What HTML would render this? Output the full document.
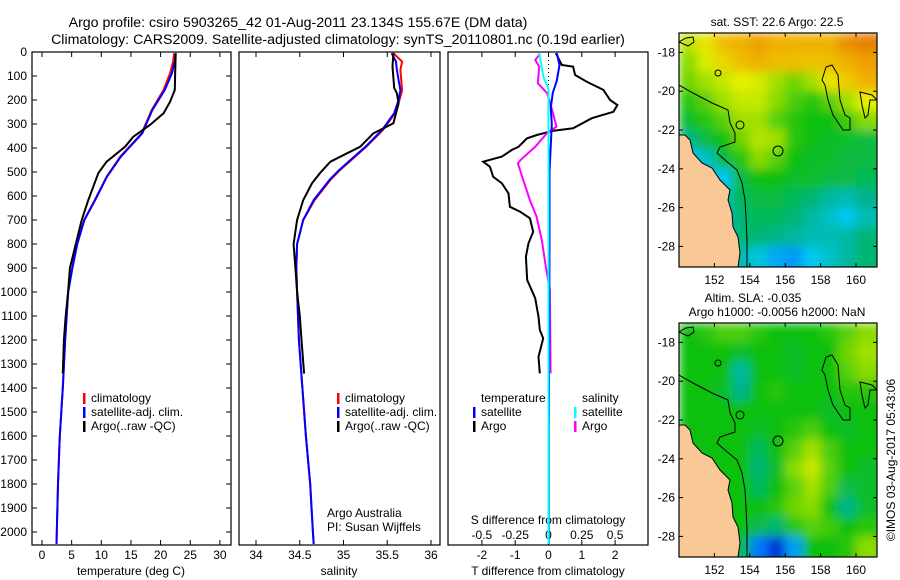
<!DOCTYPE html>
<html><head><meta charset="utf-8"><style>
html,body{margin:0;padding:0;background:#fff;}
svg{display:block;font-family:"Liberation Sans",sans-serif;}
text{fill:#000;}
</style></head><body>
<svg id="c" width="900" height="580" viewBox="0 0 900 580">
<defs>
<clipPath id="cp1"><rect x="32" y="52" width="199" height="493"/></clipPath>
<clipPath id="cp2"><rect x="239" y="52" width="201" height="493"/></clipPath>
<clipPath id="cp3"><rect x="448" y="52" width="200" height="493"/></clipPath>
<clipPath id="cpm1"><rect x="679" y="33" width="198" height="234"/></clipPath>
<clipPath id="cpm2"><rect x="679" y="323" width="198" height="234"/></clipPath>
<filter id="bl" x="0" y="0" width="1" height="1"><feGaussianBlur stdDeviation="5" edgeMode="duplicate"/></filter>
</defs>
<text x="298" y="27" font-size="14.2" text-anchor="middle">Argo profile: csiro 5903265_42 01-Aug-2011 23.134S 155.67E (DM data)</text>
<text x="338" y="44" font-size="14.2" text-anchor="middle">Climatology: CARS2009. Satellite-adjusted climatology: synTS_20110801.nc (0.19d earlier)</text>
<g id="g"></g>
</svg>
<script>
// ---- data ----
const tArgoPres=[5,54,100,158,207,255,304,353,395,457,505,617,700,800,900,1000,1100,1200,1340];
const tArgo=[22.54,22.5,22.45,22.4,21.6,20.5,18.2,15.4,14,10.9,9.5,7.8,6.7,5.7,4.7,4.4,4.0,3.7,3.5];
const climPres=[5,40,89,158,242,339,436,520,617,700,800,900,1000,1200,1400,1600,1800,2000,2050];
const tClim=[22.3,22.1,21.6,20.5,18.5,16.8,13.2,10.9,8.9,7.1,5.9,5.1,4.4,3.9,3.5,3.0,2.7,2.5,2.45];
const tSat=[22.55,22.4,21.9,20.7,18.6,16.9,13.3,10.95,8.95,7.15,5.95,5.13,4.42,3.92,3.5,3.0,2.7,2.5,2.45];
const sArgoPres=[5,61,150,172,214,297,339,395,422,457,505,547,617,700,800,900,1000,1100,1200,1340];
const sArgo=[35.57,35.56,35.58,35.61,35.63,35.57,35.34,35.19,35.04,34.85,34.73,34.64,34.54,34.47,34.43,34.45,34.47,34.5,34.52,34.55];
const sClimPres=[5,40,75,160,200,255,325,395,492,533,617,700,800,900,1000,1200,1400,1600,1800,2000,2050];
const sClim=[35.57,35.67,35.65,35.67,35.64,35.59,35.45,35.26,34.96,34.85,34.67,34.54,34.47,34.46,34.47,34.49,34.53,34.57,34.62,34.65,34.66];
const sSat=[35.55,35.6,35.61,35.65,35.63,35.58,35.44,35.25,34.95,34.84,34.66,34.54,34.47,34.46,34.47,34.49,34.53,34.57,34.62,34.65,34.66];
const dtArgoPres=[5,54,61,96,124,158,200,221,249,276,318,328,346,360,395,408,436,457,478,520,547,589,645,665,693,749,797,853,950,1026,1103,1158,1193,1270,1339];
const dtArgo=[0.22,0.4,0.74,0.8,1.15,1.65,1.85,2.07,1.95,1.3,0.74,0.15,-0.35,-0.65,-0.9,-1.1,-1.4,-1.96,-1.76,-1.66,-1.4,-1.2,-1.16,-0.86,-0.56,-0.46,-0.6,-0.68,-0.64,-0.4,-0.3,-0.26,-0.16,-0.3,-0.26];
const dsArgoPres=[8,33,61,130,172,235,311,339,395,450,464,533,617,686,783,894,992,1339];
const dsArgo=[-0.064,-0.1,-0.07,-0.08,-0.01,0.024,0.06,-0.013,-0.1,-0.21,-0.23,-0.19,-0.14,-0.09,-0.05,-0.02,0.01,0.016];
const dtSatPres=[5,54,120,170,230,300,500,800,1200,1600,2050];
const dtSat=[0.25,0.33,0.25,0.13,0.07,0.1,0.03,0.03,0.02,0.01,0.01];
const dsSatPres=[5,100,155,300,800,2050];
const dsSat=[-0.07,-0.04,0,0,0,0];
const presTicks=[0,100,200,300,400,500,600,700,800,900,1000,1100,1200,1300,1400,1500,1600,1700,1800,1900,2000];
const tTicks=[0,5,10,15,20,25,30];
const sTicks=[34,34.5,35,35.5,36];
const dtTicks=[-2,-1,0,1,2];
const dsTickLabels=["-0.5","-0.25","0","0.25","0.5"];
const mapLats=[-18,-20,-22,-24,-26,-28];
const mapLons=[152,154,156,158,160];
const sstGrid=[
[0.65,0.72,0.78,0.8,0.82,0.8,0.8,0.8,0.8,0.84,0.86],
[0.6,0.68,0.74,0.78,0.8,0.78,0.78,0.77,0.78,0.8,0.82],
[0.58,0.62,0.66,0.7,0.68,0.62,0.58,0.62,0.72,0.76,0.8],
[0.52,0.56,0.62,0.66,0.66,0.6,0.55,0.52,0.56,0.62,0.7],
[0.48,0.52,0.56,0.62,0.62,0.56,0.52,0.5,0.5,0.54,0.6],
[0.4,0.46,0.5,0.58,0.64,0.62,0.52,0.5,0.48,0.48,0.46],
[0.3,0.34,0.46,0.52,0.6,0.56,0.5,0.48,0.48,0.46,0.46],
[0.3,0.3,0.3,0.46,0.5,0.5,0.48,0.48,0.46,0.46,0.44],
[0.3,0.3,0.36,0.44,0.46,0.46,0.44,0.42,0.38,0.36,0.4],
[0.3,0.3,0.36,0.42,0.44,0.44,0.42,0.38,0.34,0.3,0.36],
[0.3,0.3,0.3,0.42,0.42,0.4,0.38,0.36,0.36,0.38,0.42],
[0.3,0.3,0.3,0.36,0.32,0.26,0.24,0.3,0.34,0.38,0.42]];
const slaGrid=[
[0.5,0.52,0.55,0.55,0.52,0.5,0.5,0.5,0.52,0.56,0.6],
[0.5,0.5,0.5,0.48,0.5,0.5,0.48,0.5,0.5,0.58,0.62],
[0.5,0.5,0.5,0.38,0.5,0.5,0.48,0.5,0.5,0.56,0.6],
[0.5,0.5,0.48,0.4,0.5,0.52,0.5,0.5,0.5,0.52,0.52],
[0.5,0.5,0.5,0.5,0.5,0.5,0.5,0.5,0.48,0.5,0.5],
[0.5,0.5,0.5,0.5,0.48,0.5,0.52,0.55,0.5,0.48,0.5],
[0.5,0.5,0.5,0.5,0.44,0.5,0.56,0.62,0.55,0.5,0.5],
[0.5,0.5,0.5,0.5,0.42,0.48,0.6,0.66,0.56,0.5,0.48],
[0.5,0.5,0.5,0.5,0.44,0.5,0.56,0.62,0.55,0.45,0.48],
[0.5,0.5,0.5,0.5,0.5,0.52,0.58,0.6,0.5,0.4,0.48],
[0.5,0.5,0.5,0.5,0.45,0.42,0.52,0.56,0.54,0.5,0.52],
[0.5,0.5,0.5,0.45,0.2,0.1,0.25,0.5,0.5,0.52,0.6]];

// ---- helpers ----
const NS="http://www.w3.org/2000/svg";
const G=document.getElementById('g');
function mk(tag,at,parent){const e=document.createElementNS(NS,tag);for(const k in at)e.setAttribute(k,at[k]);(parent||G).appendChild(e);return e;}
const Y=p=>52+p*0.24;
const xT=t=>42+t*5.93;
const xS=s=>256+(s-34)*87.5;
const xD=d=>548.5+d*33.3;
const xDS=s=>548.5+s*133.2;
function line(xs,ps,fx,col,clip,name){
  const pts=xs.map((v,i)=>fx(v).toFixed(1)+","+Y(ps[i]).toFixed(1)).join(" ");
  const e=mk('polyline',{points:pts,fill:'none',stroke:col,'stroke-width':2,'clip-path':'url(#'+clip+')'});
  
  
}
function txt(x,y,s,size,anchor,name){
  const e=mk('text',{x:x,y:y,'font-size':size,'text-anchor':anchor||'start'});
  e.textContent=s;
  
  
  return e;
}
function frame(x,y,w,h,name){
  const e=mk('rect',{x:x,y:y,width:w,height:h,fill:'none',stroke:'#000','stroke-width':1.2});
  
  
}
function tick(x1,y1,x2,y2){
  const e=mk('line',{x1:x1,y1:y1,x2:x2,y2:y2,stroke:'#000','stroke-width':1});
  
  
}
function legBar(x,y,col){
  const e=mk('rect',{x:x,y:y-9,width:2.5,height:11,fill:col});
  
  
}

// ---- panel 1: temperature ----
frame(32,52,199,493,'temperature-panel');
presTicks.forEach(p=>{tick(32,Y(p),37,Y(p));tick(226,Y(p),231,Y(p));txt(27,Y(p)+4,String(p),12,'end','pressure-tick-label');});
tTicks.forEach(t=>{tick(xT(t),52,xT(t),57);tick(xT(t),540,xT(t),545);txt(xT(t),559,String(t),12,'middle','temperature-tick-label');});
txt(131,575,'temperature (deg C)',12,'middle','temperature-axis-title');
line(tClim,climPres,xT,'#ff0000','cp1','temperature-climatology-line');
line(tSat,climPres,xT,'#0000ff','cp1','temperature-satellite-line');
line(tArgo,tArgoPres,xT,'#000000','cp1','temperature-argo-line');
legBar(83,402,'#f00');txt(91,402,'climatology',12,'start','legend-climatology');
legBar(83,416,'#00f');txt(91,416,'satellite-adj. clim.',12,'start','legend-satellite');
legBar(83,430,'#000');txt(91,430,'Argo(..raw -QC)',12,'start','legend-argo');

// ---- panel 2: salinity ----
frame(239,52,201,493,'salinity-panel');
sTicks.forEach(s=>{tick(xS(s),52,xS(s),57);tick(xS(s),540,xS(s),545);txt(xS(s),559,String(s),12,'middle','salinity-tick-label');});
txt(339,575,'salinity',12,'middle','salinity-axis-title');
line(sClim,sClimPres,xS,'#ff0000','cp2','salinity-climatology-line');
line(sSat,sClimPres,xS,'#0000ff','cp2','salinity-satellite-line');
line(sArgo,sArgoPres,xS,'#000000','cp2','salinity-argo-line');
legBar(337,402,'#f00');txt(345,402,'climatology',12,'start','legend-climatology');
legBar(337,416,'#00f');txt(345,416,'satellite-adj. clim.',12,'start','legend-satellite');
legBar(337,430,'#000');txt(345,430,'Argo(..raw -QC)',12,'start','legend-argo');
txt(327,517,'Argo Australia',12,'start','credit-argo-australia');
txt(327,531,'PI: Susan Wijffels',12,'start','credit-pi');

// ---- panel 3: differences ----
frame(448,52,200,493,'difference-panel');
dtTicks.forEach(d=>{tick(xD(d),52,xD(d),57);tick(xD(d),540,xD(d),545);txt(xD(d),559,String(d),12,'middle','t-diff-tick-label');});
dsTickLabels.forEach((s,i)=>{txt(xDS(parseFloat(s)),539,s,12,'middle','s-diff-tick-label');});
txt(548,524,'S difference from climatology',12,'middle','s-diff-axis-title');
txt(548,575,'T difference from climatology',12,'middle','t-diff-axis-title');
{const e=mk('line',{x1:xD(0),y1:52,x2:xD(0),y2:545,stroke:'#000','stroke-width':1,'stroke-dasharray':'1,3'});}
line(dtArgo,dtArgoPres,xD,'#000000','cp3','t-diff-argo-line');
line(dsArgo,dsArgoPres,xDS,'#ff00ff','cp3','s-diff-argo-line');
line(dtSat,dtSatPres,xD,'#0000ff','cp3','t-diff-satellite-line');
line(dsSat,dsSatPres,xDS,'#00ffff','cp3','s-diff-satellite-line');
txt(481,402,'temperature',12,'start','legend-temperature-heading');
legBar(473,416,'#00f');txt(481,416,'satellite',12,'start','legend-t-satellite');
legBar(473,430,'#000');txt(481,430,'Argo',12,'start','legend-t-argo');
txt(582,402,'salinity',12,'start','legend-salinity-heading');
legBar(574,416,'#0ff');txt(582,416,'satellite',12,'start','legend-s-satellite');
legBar(574,430,'#f0f');txt(582,430,'Argo',12,'start','legend-s-argo');

// ---- maps ----
const stops=[[0,[0,0,128]],[0.15,[0,80,255]],[0.3,[0,200,240]],[0.4,[0,180,140]],[0.5,[16,192,16]],[0.62,[160,224,0]],[0.7,[232,240,0]],[0.8,[240,176,0]],[0.9,[224,96,0]],[1,[180,30,0]]];
function cmap(v){for(let i=1;i<stops.length;i++){if(v<=stops[i][0]){const a=stops[i-1],b=stops[i],f=(v-a[0])/(b[0]-a[0]);const c=a[1].map((x,k)=>Math.round(x+(b[1][k]-x)*f));return 'rgb('+c.join(',')+')';}}return 'rgb(180,30,0)';}
const mLon=l=>679+(l-150)*17.7;
const land=[[679,135],[685,135],[690,140],[693,153],[702,163],[712,168],[720,180],[730,190],[728,200],[732,213],[733,227],[738,237],[740,253],[738,267],[679,267]];
const shelf=[[679,85],[693,93],[712,103],[728,110],[730,123],[735,133],[735,142],[720,147],[717,153],[725,160],[737,170],[742,183],[745,200],[746,217],[747,240],[747,267]];
const island=[[826,67],[832,65],[838,75],[840,100],[845,115],[850,118],[850,130],[843,130],[833,115],[828,100],[825,85],[822,80]];
const reefR=[[860,92],[872,95],[877,100],[870,100],[868,115],[865,118],[862,105]];
const topL=[[679,42],[688,46],[694,42],[693,37],[686,38]];
function drawMap(grid,off,clip,name,titles){
  const top=33+off, mLat=l=>top+(-17-l)*19.4;
  const grp=mk('g',{'clip-path':'url(#'+clip+')'});
  
  
  const hg=mk('g',{filter:'url(#bl)'},grp);
  grid.forEach((row,r)=>row.forEach((v,c)=>{
    const x0=mLon(150+c),x1=c==row.length-1?mLon(162):mLon(151+c);
    const y0=mLat(-17-r),y1=r==grid.length-1?mLat(-30):mLat(-18-r);
    const e=mk('rect',{x:x0,y:y0,width:x1-x0+0.5,height:y1-y0+0.5,fill:cmap(v)},hg);
    
    
  }));
  const P=a=>a.map(p=>p[0]+','+(p[1]+off)).join(' ');
  let e=mk('polygon',{points:P(land),fill:'#f9c896',stroke:'#000','stroke-width':1},grp);
  
  e=mk('polyline',{points:P(shelf),fill:'none',stroke:'#000','stroke-width':1},grp);
  
  [island,reefR,topL].forEach(a=>{const q=mk('polygon',{points:P(a),fill:'none',stroke:'#000','stroke-width':1},grp);});
  [[778,151,5],[718,73,3],[740,125,4]].forEach(c=>{const q=mk('circle',{cx:c[0],cy:c[1]+off,r:c[2],fill:'none',stroke:'#000','stroke-width':1},grp);});
  frame(679,top,198,234,name+'-frame');
  mapLats.forEach(l=>{tick(679,mLat(l),683,mLat(l));tick(873,mLat(l),877,mLat(l));txt(675,mLat(l)+4,String(l),12,'end','latitude-tick-label');});
  mapLons.forEach(l=>{tick(mLon(l),top,mLon(l),top+4);tick(mLon(l),top+230,mLon(l),top+234);txt(mLon(l),top+251,String(l),12,'middle','longitude-tick-label');});
  titles.forEach(t=>txt(t[0],t[1],t[2],12,'middle',name+'-title'));
}
drawMap(sstGrid,0,'cpm1','sst-map',[[777,26,'sat. SST: 22.6 Argo: 22.5']]);
drawMap(slaGrid,290,'cpm2','sla-map',[[753,302,'Altim. SLA: -0.035'],[777,316,'Argo h1000: -0.0056 h2000: NaN']]);
{const e=txt(0,0,'©IMOS 03-Aug-2017 05:43:06',12,'middle','timestamp');e.setAttribute('transform','translate(895,460) rotate(-90)');}
</script>
</body></html>
